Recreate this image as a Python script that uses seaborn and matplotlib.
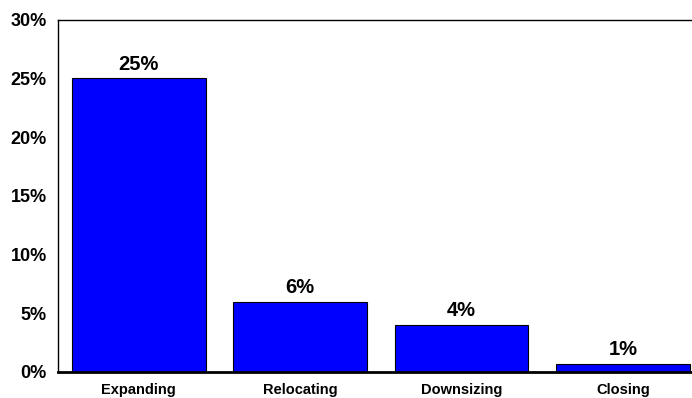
import matplotlib
matplotlib.use("Agg")
import matplotlib.pyplot as plt
import seaborn as sns
import pandas as pd

categories = ["Expanding", "Relocating", "Downsizing", "Closing"]
shares = [25, 6, 4, 0.7]
y_ticks = [0, 5, 10, 15, 20, 25, 30]

sns.set_style("white")
plt.rcParams["font.family"] = ["Liberation Sans", "DejaVu Sans"]
plt.rcParams["font.weight"] = "bold"
plt.rcParams["xtick.color"] = "black"
plt.rcParams["ytick.color"] = "black"
plt.rcParams["text.color"] = "black"

df = pd.DataFrame({"category": categories, "share": shares})

fig = plt.figure(figsize=(6.92, 3.98), dpi=100)
ax = fig.add_axes([58 / 692, 26 / 398, (703.6 - 58) / 692, (372 - 19.5) / 398])

sns.barplot(data=df, x="category", y="share", color="#0000FF", saturation=1,
            width=0.83, edgecolor="black", linewidth=0.8, ax=ax)

for i, v in enumerate(shares):
    ax.text(i, v + 0.4, f"{v:.0f}%", ha="center", va="bottom",
            fontsize=14.5, fontweight="bold", color="black")

ax.set_xlim(-0.5, 3.5)
ax.set_ylim(0, 30)
ax.set_yticks(y_ticks)
ax.set_yticklabels([f"{t}%" for t in y_ticks], fontsize=13, fontweight="bold")
ax.tick_params(axis="x", labelsize=10.5, length=0, pad=8, labelcolor="black")
ax.tick_params(axis="y", length=0, pad=8, labelcolor="black")
for lbl in ax.get_xticklabels():
    lbl.set_fontweight("bold")
ax.set_xlabel("")
ax.set_ylabel("")

for side in ["left", "top", "right"]:
    ax.spines[side].set_color("black")
    ax.spines[side].set_linewidth(1.0)
ax.spines["bottom"].set_color("black")
ax.spines["bottom"].set_linewidth(2.0)

fig.savefig("out.png", dpi=100)
